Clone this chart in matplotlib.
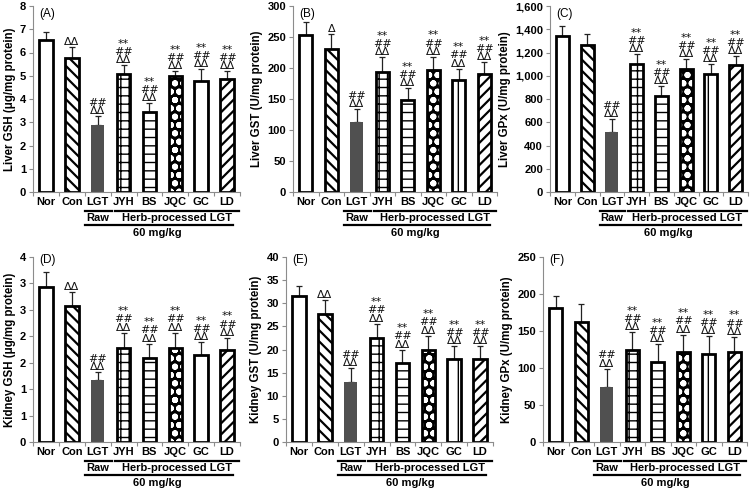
import matplotlib
matplotlib.use("Agg")
import matplotlib.pyplot as plt
import numpy as np
from matplotlib.ticker import FixedLocator, FuncFormatter

plt.rcParams['font.family'] = ['Liberation Sans', 'DejaVu Sans']

categories = ["Nor", "Con", "LGT", "JYH", "BS", "JQC", "GC", "LD"]

liver_gsh = [6.54, 5.78, 2.87, 5.07, 3.45, 4.99, 4.77, 4.87]
liver_gsh_err = [0.36, 0.44, 0.39, 0.38, 0.36, 0.21, 0.52, 0.33]

liver_gst = [254, 231, 113, 194, 148, 196, 180, 190]
liver_gst_err = [20, 24, 21, 23, 19, 22, 19, 19]

liver_gpx = [1342, 1264, 517, 1100, 828, 1057, 1014, 1092]
liver_gpx_err = [86, 92, 107, 84, 83, 84, 84, 77]

kidney_gsh = [2.93, 2.57, 1.17, 1.77, 1.59, 1.77, 1.64, 1.75]
kidney_gsh_err = [0.29, 0.27, 0.15, 0.30, 0.27, 0.30, 0.25, 0.22]

kidney_gst = [31.6, 27.6, 13.0, 22.5, 17.1, 20.0, 18.0, 18.0]
kidney_gst_err = [2.1, 3.0, 2.9, 3.1, 2.9, 3.0, 2.7, 2.7]

kidney_gpx = [181, 162, 75, 124, 108, 122, 119, 122]
kidney_gpx_err = [16, 24, 24, 24, 24, 23, 24, 20]

sig_full = "**\n##\nΔΔ"
sig_lgt = "##\nΔΔ"
annot_A = ["", "ΔΔ", sig_lgt, sig_full, sig_full, sig_full, sig_full, sig_full]
annot_B = ["", "Δ", sig_lgt, sig_full, sig_full, sig_full, sig_full, sig_full]
annot_C = ["", "", sig_lgt, sig_full, sig_full, sig_full, sig_full, sig_full]
annot_D = ["", "ΔΔ", sig_lgt, sig_full, sig_full, sig_full, sig_full, sig_full]
annot_E = ["", "ΔΔ", sig_lgt, sig_full, sig_full, sig_full, sig_full, sig_full]
annot_F = ["", "", sig_lgt, sig_full, sig_full, sig_full, sig_full, sig_full]

kidney_gsh_ticklabels = ["0", "1", "1", "2", "2", "3", "3", "4"]

panels = [
    ("(A)", "Liver GSH (μg/mg protein)", liver_gsh, liver_gsh_err, annot_A,
     np.arange(0, 8.01, 1), None, False),
    ("(B)", "Liver GST (U/mg protein)", liver_gst, liver_gst_err, annot_B,
     np.arange(0, 301, 50), None, False),
    ("(C)", "Liver GPx (U/mg protein)", liver_gpx, liver_gpx_err, annot_C,
     np.arange(0, 1601, 200), None, True),
    ("(D)", "Kidney GSH (μg/mg protein)", kidney_gsh, kidney_gsh_err, annot_D,
     np.arange(0, 3.51, 0.5), kidney_gsh_ticklabels, False),
    ("(E)", "Kidney GST (U/mg protein)", kidney_gst, kidney_gst_err, annot_E,
     np.arange(0, 41, 5), None, False),
    ("(F)", "Kidney GPx (U/mg protein)", kidney_gpx, kidney_gpx_err, annot_F,
     np.arange(0, 251, 50), None, False),
]

W, H = 754, 491
fig = plt.figure(figsize=(W / 100, H / 100), dpi=100)

# axes boxes in pixels: left, right, top, bottom, letter offset below top
boxes = [
    (33, 240, 6, 192, 8),
    (293, 497, 6, 192, 8),
    (550, 748, 6, 192, 8),
    (33, 240, 257, 442, 3),
    (286, 493, 257, 442, 3),
    (543, 747, 257, 442, 3),
]

styles = [
    dict(face="white", hatch=None),
    dict(face="white", hatch="\\\\\\", hlw=1.6),
    dict(face="#505050", hatch=None, noedge=True),
    dict(face="white", hatch="++", hlw=1.0),
    dict(face="white", hatch="--", hlw=1.0),
    dict(face="black", hatch="oo", hlw=2.0, white_hatch=True),
    dict(face="white", hatch="|", hlw=1.0),
    dict(face="white", hatch="///", hlw=1.6),
]

x = np.arange(len(categories))
bw = 0.52
grey = "#8c8c8c"
fs = 8

for (letter, ylabel, vals, errs, annots, ticks, tlabels, comma), (l, r, t, b, loff) in zip(panels, boxes):
    ax = fig.add_axes([l / W, 1 - b / H, (r - l) / W, (b - t) / H])
    for i in range(len(categories)):
        st = styles[i]
        if st.get("noedge"):
            ax.bar(x[i], vals[i], bw, color=st["face"], linewidth=0, zorder=2)
        elif st.get("white_hatch"):
            with plt.rc_context({"hatch.linewidth": st["hlw"]}):
                ax.bar(x[i], vals[i], bw, facecolor=st["face"], edgecolor="white",
                       hatch=st["hatch"], linewidth=0, zorder=2)
            ax.bar(x[i], vals[i], bw, facecolor="none", edgecolor="black",
                   linewidth=2, zorder=3)
        else:
            with plt.rc_context({"hatch.linewidth": st.get("hlw", 1.0)}):
                ax.bar(x[i], vals[i], bw, facecolor=st["face"], edgecolor="black",
                       hatch=st["hatch"], linewidth=2, zorder=2)
    ax.errorbar(x, vals, yerr=[np.zeros(len(vals)), errs], fmt="none",
                ecolor="#222222", elinewidth=0.9, capsize=2.5, capthick=0.9, zorder=1)
    tops = np.array(vals) + np.array(errs)
    for i, s in enumerate(annots):
        if s:
            ax.annotate(s, (x[i], tops[i]), xytext=(0, 0), textcoords="offset points",
                        ha="center", va="bottom", fontsize=8, linespacing=0.78,
                        color="#111111", family=["DejaVu Sans"])

    ax.set_xlim(-0.5, len(categories) - 0.5)
    ax.set_ylim(ticks[0], ticks[-1])
    ax.set_yticks(ticks)
    if tlabels is not None:
        ax.set_yticklabels(tlabels)
    elif comma:
        ax.yaxis.set_major_formatter(FuncFormatter(lambda v, p: f"{int(v):,}"))
    ax.set_xticks(x)
    ax.set_xticklabels(categories)
    ax.xaxis.set_minor_locator(FixedLocator(np.arange(-0.5, len(categories), 1.0)))
    ax.tick_params(axis="x", which="major", length=0, pad=3.5, labelsize=fs)
    ax.tick_params(axis="x", which="minor", length=3, color=grey, width=0.8)
    ax.tick_params(axis="y", which="major", length=3, color=grey, width=0.8, labelsize=fs, pad=2)
    for lab in ax.get_xticklabels() + ax.get_yticklabels():
        lab.set_fontweight("bold")
    for sp in ["top", "right"]:
        ax.spines[sp].set_visible(False)
    for sp in ["left", "bottom"]:
        ax.spines[sp].set_color(grey)
        ax.spines[sp].set_linewidth(0.8)
    ax.set_ylabel(ylabel, fontsize=8.3, fontweight="bold", labelpad=3)
    hpx = b - t
    ax.text(0.03, 1 - loff / hpx, letter, transform=ax.transAxes, fontsize=8.5,
            va="center", ha="left")

    tr = ax.get_xaxis_transform()
    y1 = -19 / hpx
    y_t1 = -26 / hpx
    y2 = -33 / hpx
    y_t2 = -41 / hpx
    ax.plot([1.51, 2.55], [y1, y1], color="black", lw=1.6, transform=tr, clip_on=False)
    ax.plot([2.67, 7.45], [y1, y1], color="black", lw=1.6, transform=tr, clip_on=False)
    ax.plot([1.51, 7.22], [y2, y2], color="black", lw=1.6, transform=tr, clip_on=False)
    ax.text(2.0, y_t1, "Raw", transform=tr, ha="center", va="center", fontsize=fs, fontweight="bold")
    ax.text(5.05, y_t1, "Herb-processed LGT", transform=tr, ha="center", va="center", fontsize=fs, fontweight="bold")
    ax.text(4.3, y_t2, "60 mg/kg", transform=tr, ha="center", va="center", fontsize=fs, fontweight="bold")

fig.savefig("out.png", dpi=100)
